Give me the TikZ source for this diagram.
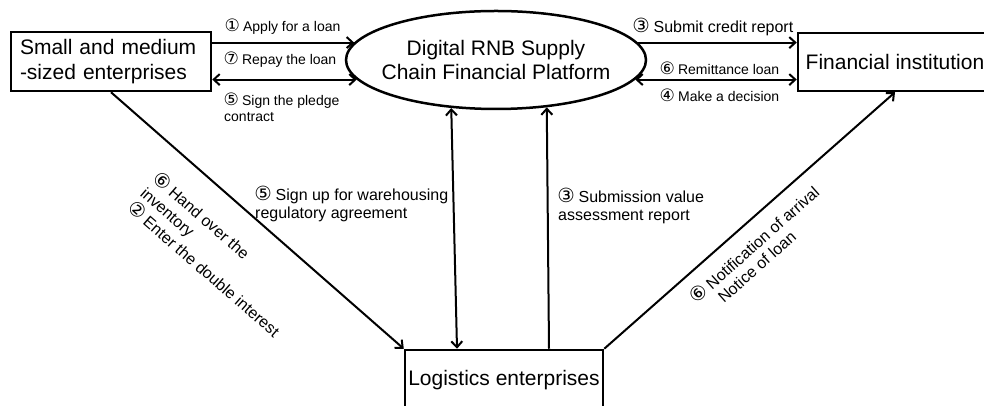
\documentclass[tikz,border=0pt]{standalone}
\usepackage{fontspec}
\setmainfont{Liberation Sans}
\newfontfamily\circf{DejaVu Sans}
\usetikzlibrary{arrows.meta,shapes.geometric,calc}
\newcommand{\cn}[1]{\makebox[1em][c]{\circf\fontsize{1.22\dimexpr\csname f@size\endcsname pt\relax}{0pt}\selectfont #1}}
\begin{document}
\begin{tikzpicture}[x=1pt,y=1pt,
  box/.style={draw, line width=2.5pt, rectangle, inner sep=0pt, font=\fontsize{21}{25}\selectfont},
  lbl/.style={inner sep=0pt, align=left, font=\fontsize{14}{16}\selectfont},
  lblb/.style={inner sep=0pt, align=left, font=\fontsize{16}{18}\selectfont},
  conn/.style={line width=2pt},
  arr/.style={conn, -{Straight Barb[length=6pt,width=11pt]}},
  dbl/.style={conn, {Straight Barb[length=6pt,width=11pt]}-{Straight Barb[length=6pt,width=11pt]}},
]
\useasboundingbox (0,0) rectangle (984,406);
\node[box, minimum width=200pt, minimum height=59pt, text width=182pt, align=left] (sme) at (111,344.5) {Small and medium\\-sized enterprises};
\node[draw, ellipse, line width=2.5pt, minimum width=300pt, minimum height=98pt, inner xsep=-9pt, inner ysep=0pt, align=center, font=\fontsize{21}{24}\selectfont] (plat) at (496,346) {Digital RNB Supply\\Chain Financial Platform};
\node[box, minimum width=194pt, minimum height=58pt] (fin) at (895,344) {Financial institution};
\node[box, minimum width=198pt, minimum height=60pt] (logi) at (504,26) {Logistics enterprises};

\draw[arr] (sme.east |- plat.173) -- (plat.173);
\draw[dbl] (sme.east |- plat.188) -- (plat.188);
\draw[arr] (plat.7) -- (plat.7 -| fin.west);
\draw[dbl] (plat.352) -- (plat.352 -| fin.west);
\draw[arr] (sme.south) -- (logi.north west);
\coordinate (lv) at ($(logi.north)+(-47,0)$);
\draw[dbl] (plat.227) -- (lv);
\coordinate (rv) at ($(logi.north)+(45,0)$);
\draw[arr] (rv) -- (plat.317);
\draw[arr] (logi.north east) -- (fin.south);

\node[lbl, anchor=west] (l1) at (225,379) {\cn{①} Apply for a loan};
\node[lbl, anchor=west] (l7) at (224,346) {\cn{⑦} Repay the loan};
\node[lbl, anchor=west] (l5) at (224,299) {\cn{⑤} Sign the pledge\\contract};
\node[lblb, anchor=west] (l3) at (633,379) {\cn{③} Submit credit report};
\node[lbl, anchor=west] (l6) at (660,338) {\cn{⑥} Remittance loan};
\node[lbl, anchor=west] (l4) at (660,311) {\cn{④} Make a decision};
\node[lblb, anchor=west] (l5b) at (255,202) {\cn{⑤} Sign up for warehousing\\regulatory agreement};
\node[lblb, anchor=west] (l3b) at (558,200) {\cn{③} Submission value\\assessment report};
\node[lblb, font=\fontsize{16}{19.5}\selectfont, anchor=north west, rotate=-41] (l62) at (161.6,236.4) {\cn{⑥} Hand over the\\inventory\\\cn{②} Enter the double interest};
\node[lblb, anchor=north west, rotate=41.6] (l6n) at (687,113) {\cn{⑥} Notification of arrival\\\phantom{\cn{⑥} }Notice of loan};
\end{tikzpicture}
\end{document}
